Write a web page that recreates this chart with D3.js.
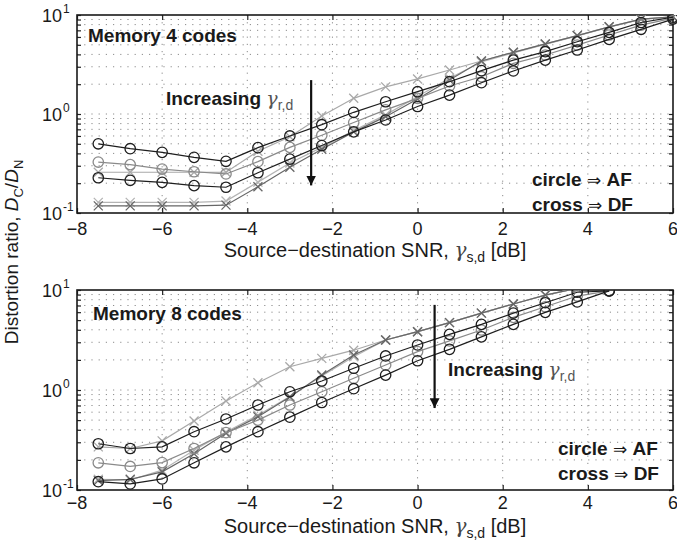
<!DOCTYPE html>
<html>
<head>
<meta charset="utf-8">
<script src="https://cdn.jsdelivr.net/npm/d3@7"></script>
<style>
body { margin: 0; background: #fff; }
svg { display: block; }
text { font-family: "Liberation Sans", Arial, sans-serif; fill: #1a1a1a; }
</style>
</head>
<body>
<svg id="chart" width="677" height="546"></svg>
<script>
/// Distortion ratio vs source-destination SNR, memory 4 / memory 8 codes ///

// source-destination SNR points (dB)
const snr = [-7.5, -6.75, -6, -5.25, -4.5, -3.75, -3, -2.25, -1.5, -0.75, 0, 0.75, 1.5, 2.25, 3, 3.75, 4.5, 5.25, 6];

const xTicks = [-8, -6, -4, -2, 0, 2, 4, 6];
const yMajor = [0.1, 1, 10];
const yMajorExp = ["-1", "0", "1"];

// memory 4 codes
const m4_af1 = [0.50, 0.446, 0.41, 0.365, 0.333, 0.457, 0.60, 0.78, 1.04, 1.33, 1.68, 2.12, 2.74, 3.5, 4.26, 5.37, 6.68, 8.4, 9.5];
const m4_af2 = [0.327, 0.308, 0.278, 0.261, 0.248, 0.33, 0.46, 0.61, 0.82, 1.1, 1.44, 1.92, 2.38, 3.25, 3.94, 4.97, 6.28, 7.9, 9.3];
const m4_af3 = [0.227, 0.214, 0.204, 0.189, 0.182, 0.255, 0.35, 0.48, 0.66, 0.87, 1.19, 1.55, 2.07, 2.72, 3.5, 4.43, 5.67, 7.17, 9.1];
const m4_df1 = [0.258, 0.258, 0.258, 0.258, 0.258, 0.42, 0.59, 0.955, 1.44, 1.88, 2.26, 2.78, 3.43, 4.2, 5.1, 6.2, 7.6, 9.1, 9.6];
const m4_df2 = [0.128, 0.128, 0.128, 0.128, 0.132, 0.205, 0.32, 0.46, 0.68, 0.98, 1.5, 2.3, 3.35, 4.15, 5.05, 6.15, 7.55, 9.0, 9.6];
const m4_df3 = [0.118, 0.118, 0.118, 0.118, 0.12, 0.184, 0.29, 0.44, 0.66, 0.94, 1.42, 2.2, 3.43, 4.2, 5.1, 6.2, 7.6, 9.1, 9.6];

// memory 8 codes (null = no point)
const m8_af1 = [0.29, 0.26, 0.27, 0.383, 0.513, 0.708, 0.96, 1.23, 1.65, 2.19, 2.82, 3.6, 4.53, 5.87, 7.46, 9.5, 9.8, null, null];
const m8_af2 = [0.187, 0.172, 0.188, 0.26, 0.375, 0.5, 0.708, 0.96, 1.31, 1.78, 2.42, 3.1, 3.98, 5.33, 6.8, 8.7, 9.8, null, null];
const m8_af3 = [0.121, 0.115, 0.129, 0.187, 0.27, 0.383, 0.535, 0.75, 1.03, 1.41, 1.96, 2.55, 3.4, 4.53, 5.98, 7.6, 9.8, null, null];
const m8_df1 = [0.27, 0.26, 0.31, 0.49, 0.775, 1.18, 1.71, 2.07, 2.5, 3.16, 3.83, 4.72, 5.87, 7.24, 8.9, 10.4, null, null, null];
const m8_df2 = [0.128, 0.126, 0.158, 0.25, 0.38, 0.56, 0.86, 1.38, 2.15, 3.16, 3.83, 4.72, 5.87, 7.24, 8.9, 10.4, null, null, null];
const m8_df3 = [0.124, 0.128, 0.152, 0.23, 0.37, 0.54, 0.85, 1.41, 2.24, 3.16, 3.83, 4.72, 5.87, 7.24, 8.9, 10.4, null, null, null];

// look of each curve (draw order = list order)
const curveStyle = [
    {key: "df1", color: "#a9a9a9", mark: "cross"},
    {key: "df2", color: "#b4b4b4", mark: "cross"},
    {key: "df3", color: "#666666", mark: "cross"},
    {key: "af2", color: "#8a8a8a", mark: "circle"},
    {key: "af1", color: "#1e1e1e", mark: "circle"},
    {key: "af3", color: "#1e1e1e", mark: "circle"}
];

const panels = [
    {title: "Memory 4 codes", top: 15, bottom: 213, tickDy: 22, labDy: 44,
     curves: {af1: m4_af1, af2: m4_af2, af3: m4_af3, df1: m4_df1, df2: m4_df2, df3: m4_df3},
     titlePos: [11, 27], incPos: [89, 90], arrow: [-2.5, 2.2, 0.19], legendPos: [532, 171]},
    {title: "Memory 8 codes", top: 290, bottom: 490, tickDy: 19, labDy: 43,
     curves: {af1: m8_af1, af2: m8_af2, af3: m8_af3, df1: m8_df1, df2: m8_df2, df3: m8_df3},
     titlePos: [16, 30], incPos: [371, 86], arrow: [0.4, 7.1, 0.66], legendPos: [558, 165]}
];

const left = 77, right = 673;
const svg = d3.select("#chart");

svg.append("defs").append("marker")
    .attr("id", "head").attr("viewBox", "0 0 10 10")
    .attr("refX", 10).attr("refY", 5)
    .attr("markerWidth", 4.5).attr("markerHeight", 4.5)
    .attr("markerUnits", "strokeWidth").attr("orient", "auto")
    .append("path").attr("d", "M0,0L10,5L0,10z").attr("fill", "#111");

const x = d3.scaleLinear().domain([-8, 6]).range([left, right]);

panels.forEach((p, pi) => {
    const h = p.bottom - p.top;
    const y = d3.scaleLog().domain([0.1, 10]).range([p.bottom, p.top]);
    const g = svg.append("g");

    g.append("clipPath").attr("id", "clip" + pi).append("rect")
        .attr("x", left - 20).attr("y", p.top).attr("width", right - left + 40).attr("height", h + 20);

    // minor log values
    const yMinor = [];
    for (let d = 0.1; d < 10; d *= 10) for (let k = 1; k < 10; k++) yMinor.push(+(d * k).toFixed(2));
    yMinor.push(10);

    // dotted grid
    g.append("g").selectAll("line").data(yMinor.filter(v => v > 0.1 && v < 10)).join("line")
        .attr("x1", left).attr("x2", right).attr("y1", d => y(d)).attr("y2", d => y(d))
        .attr("stroke", "#8c8c8c").attr("stroke-width", 1).attr("stroke-dasharray", "1.2,6");
    g.append("g").selectAll("line").data(xTicks.slice(1, -1)).join("line")
        .attr("x1", d => x(d)).attr("x2", d => x(d)).attr("y1", p.top).attr("y2", p.bottom)
        .attr("stroke", "#8c8c8c").attr("stroke-width", 1).attr("stroke-dasharray", "1.2,6");

    // axes with inward ticks
    const axStyle = a => a.call(s => s.select(".domain").remove())
        .call(s => s.selectAll(".tick line").attr("stroke", "#222").attr("stroke-width", 1.2));
    g.append("g").attr("transform", `translate(0,${p.bottom})`)
        .call(d3.axisBottom(x).tickValues(xTicks).tickSize(-5).tickFormat("")).call(axStyle);
    g.append("g").attr("transform", `translate(0,${p.top})`)
        .call(d3.axisTop(x).tickValues(xTicks).tickSize(-5).tickFormat("")).call(axStyle);
    g.append("g").attr("transform", `translate(${left},0)`)
        .call(d3.axisLeft(y).tickValues(yMinor).tickSize(-4).tickFormat("")).call(axStyle);
    g.append("g").attr("transform", `translate(${right},0)`)
        .call(d3.axisRight(y).tickValues(yMinor).tickSize(-4).tickFormat("")).call(axStyle);

    g.append("rect").attr("x", left).attr("y", p.top).attr("width", right - left).attr("height", h)
        .attr("fill", "none").attr("stroke", "#1a1a1a").attr("stroke-width", 1.6);

    // tick labels
    g.append("g").selectAll("text").data(xTicks).join("text")
        .attr("x", d => x(d)).attr("y", p.bottom + p.tickDy)
        .attr("text-anchor", "middle").attr("font-size", 18)
        .text(d => d < 0 ? "\u2212" + (-d) : d);
    const yl = g.append("g").selectAll("g").data(yMajor).join("g");
    yl.append("text")
        .attr("x", left - 15).attr("y", d => y(d) + 7)
        .attr("text-anchor", "end").attr("font-size", 18).text("10");
    yl.append("text")
        .attr("x", left - 14).attr("y", d => y(d) - 2)
        .attr("font-size", 12).text((d, i) => yMajorExp[i]);

    // x label
    const xl = g.append("text").attr("x", (left + right) / 2).attr("y", p.bottom + p.labDy)
        .attr("text-anchor", "middle").attr("font-size", 20);
    xl.append("tspan").text("Source\u2212destination SNR, ");
    xl.append("tspan").attr("font-family", "DejaVu Serif").attr("font-style", "italic").attr("fill", "#444").text("\u03b3");
    xl.append("tspan").attr("font-size", 14).attr("dy", 5).text("s,d");
    xl.append("tspan").attr("dy", -5).text(" [dB]");

    // curves
    const plot = g.append("g").attr("clip-path", `url(#clip${pi})`);
    curveStyle.forEach(cs => {
        const vals = p.curves[cs.key];
        const pts = snr.map((s, i) => [s, vals[i]]).filter(d => d[1] != null);
        plot.append("path").datum(pts)
            .attr("d", d3.line().x(d => x(d[0])).y(d => y(d[1])))
            .attr("fill", "none").attr("stroke", cs.color).attr("stroke-width", 1.2);
        const mk = plot.append("g").selectAll("g").data(pts).join("g")
            .attr("transform", d => `translate(${x(d[0])},${y(d[1])})`);
        if (cs.mark === "circle") {
            mk.append("circle").attr("r", 5.2).attr("fill", "none")
                .attr("stroke", cs.color).attr("stroke-width", 1.3);
        } else {
            mk.append("path").attr("d", "M-4.5,-4.5L4.5,4.5M-4.5,4.5L4.5,-4.5")
                .attr("stroke", cs.color).attr("stroke-width", 1.3);
        }
    });

    // annotations
    g.append("text").attr("x", left + p.titlePos[0]).attr("y", p.top + p.titlePos[1])
        .attr("font-size", 19).attr("font-weight", "bold").text(p.title);

    const inc = g.append("text").attr("x", left + p.incPos[0]).attr("y", p.top + p.incPos[1])
        .attr("font-size", 19);
    inc.append("tspan").attr("font-weight", "bold").text("Increasing ");
    inc.append("tspan").attr("font-family", "DejaVu Serif").attr("font-style", "italic").attr("fill", "#555").text("\u03b3");
    inc.append("tspan").attr("font-size", 14).attr("dy", 5).attr("fill", "#555").text("r,d");

    g.append("line")
        .attr("x1", x(p.arrow[0])).attr("x2", x(p.arrow[0]))
        .attr("y1", y(p.arrow[1])).attr("y2", y(p.arrow[2]))
        .attr("stroke", "#111").attr("stroke-width", 2.2).attr("marker-end", "url(#head)");

    const leg = [["circle", "AF"], ["cross", "DF"]];
    leg.forEach((l, i) => {
        const t = g.append("text").attr("x", p.legendPos[0]).attr("y", p.top + p.legendPos[1] + i * 25)
            .attr("font-size", 19);
        t.append("tspan").attr("font-weight", "bold").text(l[0] + " ");
        t.append("tspan").attr("font-family", "DejaVu Sans").attr("font-size", 17).text("\u21d2 ");
        t.append("tspan").attr("font-weight", "bold").text(l[1]);
    });
});

// shared y label
const ylab = svg.append("text").attr("transform", "translate(18,252) rotate(-90)")
    .attr("text-anchor", "middle").attr("font-size", 19);
ylab.append("tspan").text("Distortion ratio, ");
ylab.append("tspan").attr("font-style", "italic").text("D");
ylab.append("tspan").attr("font-size", 13).attr("dy", 5).text("C");
ylab.append("tspan").attr("dy", -5).text("/");
ylab.append("tspan").attr("font-style", "italic").text("D");
ylab.append("tspan").attr("font-size", 13).attr("dy", 5).text("N");
</script>
</body>
</html>
